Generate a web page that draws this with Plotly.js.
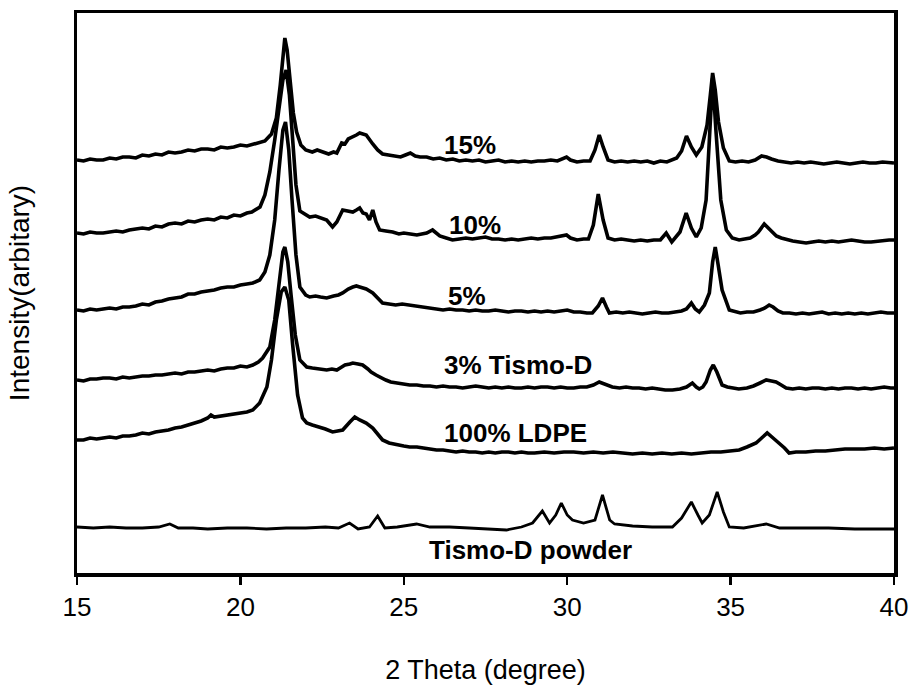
<!DOCTYPE html>
<html>
<head>
<meta charset="utf-8">
<script src="https://cdn.plot.ly/plotly-3.0.1.min.js"></script>
<style>
  html, body { margin: 0; padding: 0; background: #fff; }
  #chart { width: 916px; height: 693px; }
</style>
</head>
<body>
<div id="chart"></div>
<script>
// [2-theta (degree), intensity (arbitrary units)]
const pct15 = [[15.0,413],[15.2,412],[15.4,414],[15.6,413],[15.8,413],[16.0,415],[16.2,414],[16.4,416],[16.6,416],[16.8,415],[17.0,418],[17.2,417],[17.4,419],[17.6,418],[17.8,421],[18.0,420],[18.2,421],[18.4,423],[18.6,422],[18.8,424],[19.0,424],[19.2,423],[19.4,426],[19.6,425],[19.8,426],[20.0,428],[20.2,427],[20.4,429],[20.55,430],[20.75,432],[20.95,439],[21.1,455],[21.22,488],[21.3,521],[21.36,535],[21.43,523],[21.52,491],[21.62,460],[21.72,441],[21.85,428],[22.0,423],[22.2,421],[22.35,423],[22.5,421],[22.7,419],[22.85,421],[22.95,420],[23.1,430],[23.2,429],[23.3,434],[23.45,436],[23.55,438],[23.65,440],[23.85,438],[24.05,429],[24.2,423],[24.35,419],[24.5,418],[24.7,417],[24.9,416],[25.05,418],[25.2,420],[25.35,417],[25.5,416],[25.7,416],[25.9,414],[26.1,415],[26.3,413],[26.5,414],[26.7,412],[26.9,413],[27.1,412],[27.3,413],[27.5,411],[27.7,412],[27.9,413],[28.1,411],[28.3,412],[28.5,411],[28.7,412],[28.9,411],[29.1,412],[29.3,412],[29.5,413],[29.7,412],[29.85,414],[29.98,416],[30.1,413],[30.3,411],[30.5,412],[30.7,412],[30.85,423],[30.98,438],[31.1,426],[31.25,413],[31.45,411],[31.65,412],[31.85,411],[32.05,412],[32.25,411],[32.45,412],[32.65,410],[32.85,412],[33.05,411],[33.2,413],[33.35,415],[33.5,422],[33.65,437],[33.8,426],[33.95,418],[34.12,426],[34.28,448],[34.38,478],[34.45,500],[34.53,483],[34.63,451],[34.78,425],[34.96,412],[35.15,411],[35.35,412],[35.55,411],[35.75,413],[35.95,417],[36.1,416],[36.25,414],[36.45,412],[36.65,411],[36.85,410],[37.05,411],[37.25,410],[37.45,411],[37.65,410],[37.85,409],[38.05,410],[38.25,411],[38.45,410],[38.65,409],[38.85,410],[39.05,411],[39.25,410],[39.45,410],[39.65,411],[39.85,410],[40.0,410]];

const pct10 = [[15.0,340],[15.2,339],[15.4,341],[15.6,340],[15.8,340],[16.0,341],[16.2,342],[16.4,341],[16.6,343],[16.8,344],[17.0,345],[17.2,344],[17.4,347],[17.6,346],[17.8,349],[18.0,350],[18.2,349],[18.4,352],[18.6,351],[18.8,353],[19.0,354],[19.2,353],[19.4,356],[19.6,355],[19.8,358],[20.0,357],[20.2,360],[20.35,361],[20.5,364],[20.6,366],[20.75,378],[20.9,401],[21.05,433],[21.18,468],[21.3,493],[21.4,503],[21.5,478],[21.6,433],[21.7,388],[21.82,362],[22.0,358],[22.12,356],[22.3,357],[22.45,355],[22.64,353],[22.82,346],[22.95,351],[23.13,363],[23.3,362],[23.44,361],[23.55,363],[23.65,365],[23.75,360],[23.85,359],[23.95,353],[24.05,363],[24.15,351],[24.26,343],[24.45,342],[24.66,341],[24.85,339],[25.0,340],[25.2,339],[25.4,338],[25.55,339],[25.7,340],[25.88,343],[26.0,340],[26.1,337],[26.3,335],[26.49,333],[26.7,334],[26.9,335],[27.1,334],[27.3,335],[27.5,336],[27.7,334],[27.9,334],[28.1,333],[28.3,334],[28.5,333],[28.7,334],[28.9,335],[29.1,334],[29.3,335],[29.5,335],[29.7,336],[29.85,337],[29.98,338],[30.1,335],[30.3,333],[30.5,334],[30.65,334],[30.8,348],[30.95,379],[31.1,353],[31.25,335],[31.45,333],[31.65,334],[31.85,333],[32.05,332],[32.25,333],[32.45,332],[32.65,333],[32.85,333],[33.03,340],[33.2,331],[33.45,341],[33.64,360],[33.8,345],[33.95,336],[34.1,345],[34.25,373],[34.35,433],[34.45,495],[34.55,443],[34.7,373],[34.87,343],[35.05,335],[35.26,333],[35.45,334],[35.6,335],[35.75,338],[35.85,341],[36.03,349],[36.15,345],[36.25,341],[36.4,337],[36.55,335],[36.75,333],[36.9,332],[37.1,331],[37.31,330],[37.5,331],[37.7,332],[37.9,331],[38.1,332],[38.3,331],[38.5,332],[38.7,333],[38.9,332],[39.1,331],[39.3,331],[39.5,332],[39.7,333],[39.85,333],[40.0,333]];

const pct5 = [[15.0,263],[15.2,262],[15.4,264],[15.6,263],[15.8,264],[16.0,265],[16.2,264],[16.4,266],[16.6,266],[16.8,267],[17.0,269],[17.2,268],[17.4,271],[17.6,272],[17.8,274],[18.0,275],[18.2,276],[18.4,279],[18.6,279],[18.8,281],[19.0,282],[19.2,283],[19.4,285],[19.6,286],[19.8,286],[20.0,288],[20.2,289],[20.38,290],[20.59,293],[20.75,301],[20.9,318],[21.05,353],[21.18,403],[21.3,443],[21.38,451],[21.48,423],[21.58,373],[21.7,318],[21.82,286],[22.0,278],[22.12,276],[22.3,277],[22.45,276],[22.64,275],[22.85,277],[23.0,278],[23.13,280],[23.3,284],[23.44,286],[23.55,287],[23.65,286],[23.85,284],[24.05,280],[24.2,275],[24.35,270],[24.55,269],[24.75,268],[24.95,269],[25.18,268],[25.4,267],[25.6,266],[25.8,265],[26.0,264],[26.2,263],[26.4,264],[26.6,263],[26.8,263],[27.0,262],[27.2,263],[27.4,262],[27.6,262],[27.8,263],[28.0,262],[28.2,261],[28.4,262],[28.6,262],[28.8,261],[29.0,262],[29.2,261],[29.4,262],[29.6,261],[29.8,262],[30.0,263],[30.2,261],[30.4,261],[30.6,260],[30.77,260],[30.95,267],[31.08,275],[31.2,266],[31.29,260],[31.5,261],[31.7,260],[31.9,261],[32.1,260],[32.3,259],[32.5,260],[32.7,261],[32.9,260],[33.1,260],[33.3,261],[33.5,262],[33.65,264],[33.8,270],[33.92,264],[34.04,261],[34.2,268],[34.35,280],[34.45,311],[34.53,326],[34.62,308],[34.74,283],[34.96,263],[35.15,261],[35.3,260],[35.5,261],[35.7,261],[35.9,263],[36.05,265],[36.18,268],[36.3,266],[36.45,262],[36.6,260],[36.8,260],[37.0,259],[37.2,260],[37.4,259],[37.6,260],[37.8,261],[38.0,259],[38.2,260],[38.4,259],[38.6,260],[38.8,259],[39.0,260],[39.2,259],[39.4,260],[39.6,261],[39.8,260],[40.0,260]];

const pct3 = [[15.0,193],[15.2,192],[15.4,194],[15.6,194],[15.8,195],[16.0,195],[16.2,194],[16.4,196],[16.6,195],[16.8,196],[17.0,197],[17.2,197],[17.4,198],[17.6,198],[17.8,199],[18.0,200],[18.2,199],[18.4,201],[18.6,201],[18.8,202],[19.0,203],[19.2,202],[19.4,204],[19.6,205],[19.8,205],[20.0,207],[20.2,206],[20.38,208],[20.55,211],[20.68,215],[20.9,226],[21.05,253],[21.2,298],[21.3,321],[21.36,326],[21.45,311],[21.55,278],[21.68,238],[21.82,213],[22.03,206],[22.2,205],[22.4,204],[22.64,203],[22.8,204],[22.95,203],[23.1,206],[23.2,208],[23.35,209],[23.44,210],[23.6,209],[23.74,208],[23.9,204],[24.0,201],[24.15,198],[24.26,196],[24.45,193],[24.6,191],[24.8,190],[25.0,189],[25.18,188],[25.4,188],[25.6,187],[25.8,187],[26.0,186],[26.2,187],[26.4,186],[26.6,186],[26.8,185],[27.0,186],[27.2,187],[27.4,186],[27.6,185],[27.8,186],[28.0,185],[28.2,186],[28.4,185],[28.6,185],[28.8,186],[29.0,185],[29.2,186],[29.4,186],[29.6,185],[29.8,186],[30.0,185],[30.2,185],[30.4,186],[30.6,186],[30.8,188],[30.98,191],[31.15,189],[31.38,186],[31.6,185],[31.8,186],[32.0,185],[32.2,185],[32.4,184],[32.6,185],[32.8,184],[33.0,183],[33.22,183],[33.45,184],[33.65,186],[33.83,190],[33.95,186],[34.04,184],[34.15,186],[34.25,191],[34.38,203],[34.47,208],[34.58,201],[34.74,188],[34.9,186],[35.05,185],[35.25,184],[35.5,185],[35.7,187],[35.9,190],[36.09,193],[36.25,192],[36.39,191],[36.55,188],[36.7,185],[36.9,184],[37.1,185],[37.3,184],[37.5,185],[37.7,185],[37.9,184],[38.1,185],[38.3,184],[38.5,185],[38.7,185],[38.9,184],[39.1,185],[39.3,184],[39.5,185],[39.7,186],[39.9,185],[40.0,185]];

const ldpe = [[15.0,133],[15.2,133],[15.4,135],[15.6,134],[15.8,135],[16.0,136],[16.2,135],[16.4,137],[16.6,137],[16.8,138],[17.0,140],[17.2,139],[17.4,141],[17.6,142],[17.8,143],[18.0,145],[18.2,146],[18.4,148],[18.6,150],[18.8,152],[19.0,155],[19.1,158],[19.2,156],[19.4,157],[19.6,158],[19.8,159],[20.0,160],[20.2,161],[20.38,163],[20.59,170],[20.81,186],[20.95,213],[21.1,253],[21.25,281],[21.36,286],[21.48,273],[21.6,228],[21.75,178],[21.9,155],[22.03,150],[22.2,148],[22.43,146],[22.6,144],[22.82,141],[23.0,142],[23.13,143],[23.35,151],[23.5,156],[23.65,153],[23.85,150],[24.05,145],[24.2,139],[24.35,133],[24.55,130],[24.8,128],[25.0,127],[25.18,126],[25.4,126],[25.6,125],[25.8,124],[26.0,123],[26.2,123],[26.4,122],[26.6,121],[26.8,122],[27.0,121],[27.2,121],[27.4,120],[27.6,121],[27.8,120],[28.0,121],[28.2,121],[28.4,120],[28.6,121],[28.8,120],[29.0,120],[29.3,121],[29.6,120],[29.9,121],[30.2,121],[30.5,120],[30.8,121],[31.1,120],[31.4,121],[31.7,120],[32.0,119],[32.3,120],[32.6,119],[32.9,120],[33.2,119],[33.5,120],[33.8,119],[34.1,120],[34.4,121],[34.7,121],[35.0,122],[35.26,123],[35.5,126],[35.78,130],[35.95,135],[36.12,140],[36.3,135],[36.49,130],[36.65,125],[36.79,120],[37.0,121],[37.3,121],[37.6,122],[37.9,122],[38.2,123],[38.5,124],[38.8,124],[39.1,124],[39.4,125],[39.7,124],[40.0,125]];

const powder = [[15.0,46],[15.5,45],[16.0,46],[16.5,45],[17.0,45],[17.5,46],[17.84,49],[18.1,45],[18.55,45],[19.0,44],[19.6,45],[20.2,45],[20.8,44],[21.4,45],[22.0,45],[22.6,46],[23.0,45],[23.34,50],[23.6,44],[23.95,46],[24.2,57],[24.42,45],[24.8,46],[25.39,49],[25.8,46],[26.4,46],[27.0,45],[27.6,44],[28.14,43],[28.6,46],[28.94,50],[29.24,62],[29.46,50],[29.65,58],[29.82,70],[30.0,58],[30.16,53],[30.5,50],[30.85,53],[31.08,78],[31.3,53],[31.45,49],[32.0,47],[32.6,46],[33.22,46],[33.5,55],[33.8,71],[34.0,58],[34.13,50],[34.35,58],[34.59,81],[34.78,61],[34.96,46],[35.4,45],[36.09,49],[36.5,45],[37.2,45],[38.0,45],[38.8,44],[39.5,44],[40.0,44]];

const seriesNames = ["15%", "10%", "5%", "3% Tismo-D", "100% LDPE", "Tismo-D powder"];
const seriesData = [pct15, pct10, pct5, pct3, ldpe, powder];
const xTicks = [15, 20, 25, 30, 35, 40];
// label anchor positions (2-theta, intensity) for the curve labels
const labelX = [26.16, 26.31, 26.28, 26.16, 26.16, 25.70];
const labelY = [428, 348, 277, 208, 140, 23];

const traces = seriesData.map((d, i) => ({
  type: 'scatter',
  mode: 'lines',
  name: seriesNames[i],
  x: d.map(p => p[0]),
  y: d.map(p => p[1]),
  line: { color: '#000', width: i === 5 ? 2.8 : 3.6 },
  hoverinfo: 'skip'
}));

const annotations = seriesNames.map((t, i) => ({
  text: t,
  x: labelX[i], y: labelY[i],
  xref: 'x', yref: 'y',
  xanchor: 'left', yanchor: 'middle',
  showarrow: false,
  font: { family: 'Liberation Sans, Arial, sans-serif', size: 26, color: '#000', weight: 'bold' }
}));

const layout = {
  width: 916, height: 693,
  margin: { l: 77, r: 22, t: 13, b: 120 },
  paper_bgcolor: '#fff', plot_bgcolor: '#fff',
  showlegend: false,
  font: { family: 'Liberation Sans, Arial, sans-serif', color: '#000' },
  xaxis: {
    range: [15, 40],
    tickvals: xTicks,
    ticktext: xTicks.map(String),
    ticks: 'outside', ticklen: 8, tickwidth: 2.5, tickcolor: '#000',
    showline: true, linewidth: 3.5, linecolor: '#000', mirror: true,
    showgrid: false, zeroline: false,
    tickfont: { size: 26, color: '#000' },
    title: { text: '2 Theta (degree)', font: { size: 27, color: '#000' }, standoff: 40 }
  },
  yaxis: {
    range: [0, 560],
    showticklabels: false, ticks: '',
    showline: true, linewidth: 3.5, linecolor: '#000', mirror: true,
    showgrid: false, zeroline: false,
    title: { text: 'Intensity(arbitary)', font: { size: 28, color: '#000' }, standoff: 36 }
  },
  annotations: annotations
};

Plotly.newPlot('chart', traces, layout, { staticPlot: true, displayModeBar: false });
</script>
</body>
</html>
